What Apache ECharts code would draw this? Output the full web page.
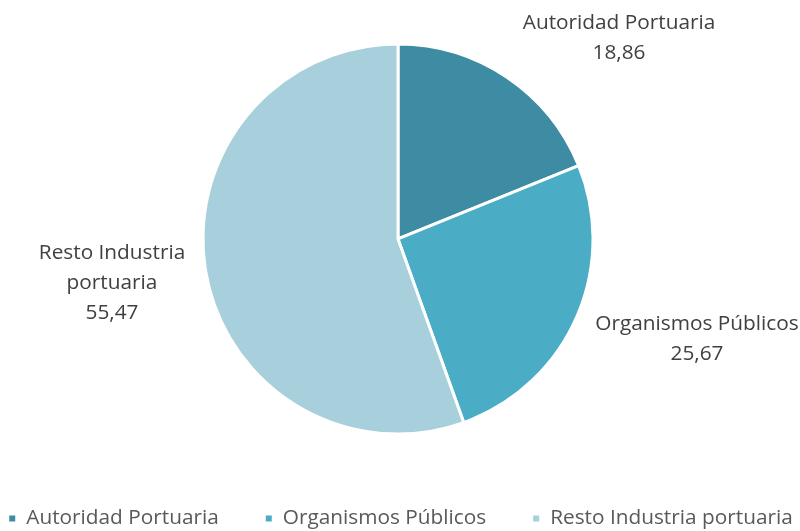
<!DOCTYPE html>
<html>
<head>
<meta charset="utf-8">
<script src="https://cdn.jsdelivr.net/npm/echarts@6/dist/echarts.min.js"></script>
<style>
  html,body{margin:0;padding:0;background:#fff;}
  #main{width:800px;height:531px;}
</style>
</head>
<body>
<div id="main"></div>
<script>
var categories = ['Autoridad Portuaria', 'Organismos Públicos', 'Resto Industria portuaria'];
var values = [18.86, 25.67, 55.47];
var labelNames = ['Autoridad Portuaria', 'Organismos Públicos', 'Resto Industria\nportuaria'];
var colors = ['#3d8ca3', '#4aacc5', '#a8cfdc'];

var textFont = 'Open Sans';
// label centres, Excel-style "best fit"
var labelPos = [[619, 38], [697, 339], [112, 283]];

var pieData = [];
for (var i = 0; i < categories.length; i++) {
  pieData.push({
    name: categories[i],
    value: values[i],
    itemStyle: { color: colors[i] }
  });
}

var myChart = echarts.init(document.getElementById('main'));
var option = {
  animation: false,
  backgroundColor: '#fff',
  legend: {
    data: categories,
    bottom: -3,
    left: 'center',
    itemWidth: 8,
    itemHeight: 8,
    itemGap: 45,
    icon: 'rect',
    textStyle: { fontFamily: textFont, fontSize: 20.8, color: '#595959', padding: [0, 0, 0, 5] }
  },
  series: [{
    type: 'pie',
    center: ['49.75%', '45%'],
    radius: [0, 195],
    startAngle: 90,
    clockwise: true,
    itemStyle: { borderColor: '#fff', borderWidth: 3 },
    label: {
      show: true,
      position: 'outside',
      overflow: 'none',
      fontFamily: textFont,
      fontSize: 20.8,
      lineHeight: 30,
      color: '#404040',
      formatter: function (p) {
        return labelNames[p.dataIndex] + '\n' + p.value.toFixed(2).replace('.', ',');
      }
    },
    labelLine: { show: false },
    labelLayout: function (p) {
      return {
        x: labelPos[p.dataIndex][0],
        y: labelPos[p.dataIndex][1],
        align: 'center',
        verticalAlign: 'middle'
      };
    },
    data: pieData
  }]
};
myChart.setOption(option);
</script>
</body>
</html>
